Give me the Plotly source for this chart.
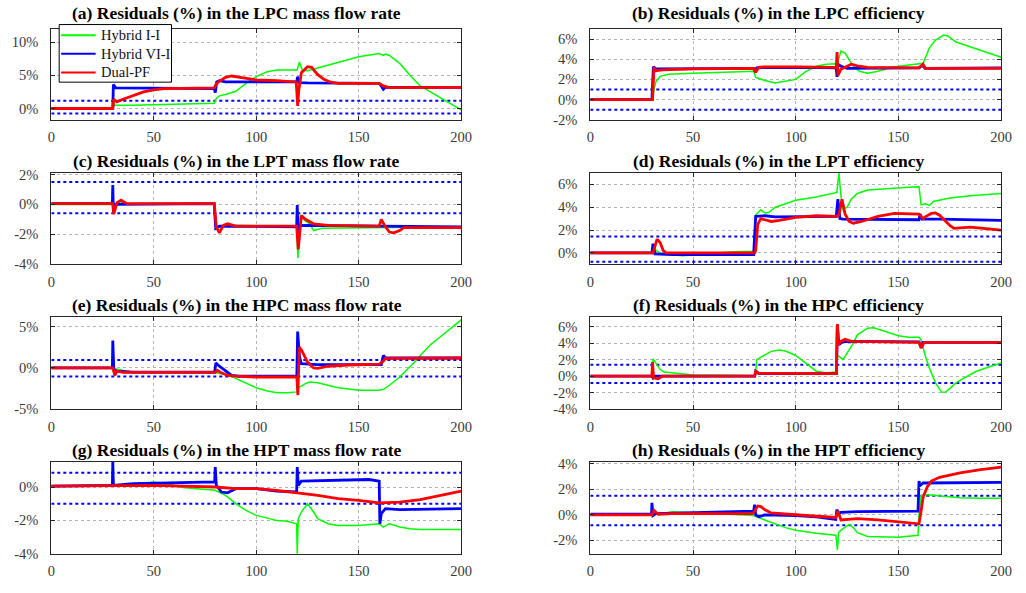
import plotly.graph_objects as go

# ---------------- data (time in s, residuals in %) ----------------
X_TICKS = [0, 50, 100, 150, 200]
SERIES_NAMES = ["Hybrid I-I", "Hybrid VI-I", "Dual-PF"]

TITLES = [
    "(a) Residuals (%) in the LPC mass flow rate",
    "(b) Residuals (%) in the LPC efficiency",
    "(c) Residuals (%) in the LPT mass flow rate",
    "(d) Residuals (%) in the LPT efficiency",
    "(e) Residuals (%) in the HPC mass flow rate",
    "(f) Residuals (%) in the HPC efficiency",
    "(g) Residuals (%) in the HPT mass flow rate",
    "(h) Residuals (%) in the HPT efficiency",
]

A_GREEN = [(0,0),(30,0),(30.5,0.5),(40,0.5),(60,0.65),(79.5,0.8),(80.5,1.5),(82,1.9),(85,2.1),(90,2.6),(95,3.8),(100,4.8),(105,5.5),(110,5.8),(120,5.8),(121,7.0),(122.5,5.8),(125,5.7),(130,6.1),(140,7.0),(150,7.8),(160,8.3),(162,8.0),(163,8.2),(165,8.0),(170,6.8),(175,5.0),(180,3.4),(185,2.5),(190,1.6),(195,0.8),(200,-0.2)]
A_BLUE = [(0,0),(30,0),(30.3,3.6),(31.5,3.1),(79.5,3.0),(80,2.4),(80.7,4.0),(82,4.2),(85,4.0),(119.7,4.0),(120.2,4.8),(121,3.9),(125,3.85),(160,3.8),(161,3.4),(162,2.9),(163,3.2),(200,3.2)]
A_RED = [(0,0),(30,0),(30.5,1.4),(32,1.0),(35,1.4),(40,2.0),(45,2.5),(50,2.8),(55,3.0),(79.5,3.1),(80.5,3.7),(82,4.1),(85,4.7),(88,4.9),(92,4.7),(95,4.5),(100,4.3),(110,4.2),(119.5,4.0),(120.2,0.4),(120.7,2.6),(122,5.4),(125,6.3),(127,6.2),(130,5.1),(133,4.4),(136,4.0),(140,3.8),(160,3.8),(162,3.4),(165,3.15),(200,3.2)]
A_THRESH = [1.15, -0.75]
A_YRANGE = [-1.7, 12]
A_YTICKS = [0, 5, 10]

B_GREEN = [(0,0),(30,0),(31,1.0),(32,1.8),(34,2.3),(38,2.5),(50,2.6),(79.5,2.8),(80.5,2.2),(85,1.9),(90,1.65),(95,1.8),(100,2.0),(105,2.8),(110,3.3),(115,3.5),(119,3.55),(120,3.4),(122,4.8),(124,4.6),(126,4.0),(128,3.3),(131,2.8),(135,2.6),(140,2.8),(145,3.1),(150,3.3),(155,3.4),(160,3.5),(162,3.6),(165,5.1),(168,5.9),(172,6.4),(174,6.3),(178,5.7),(183,5.35),(190,4.9),(195,4.5),(200,4.2)]
B_BLUE = [(0,0),(30,0),(30.7,3.25),(32,3.05),(79.5,3.1),(80.2,2.8),(81,3.15),(100,3.2),(119.7,3.15),(120.1,2.25),(120.5,3.5),(122,3.3),(125,3.1),(160,3.15),(161.5,3.4),(163,3.1),(200,3.15)]
B_RED = [(0,0),(30.3,0),(31,3.2),(32,2.85),(35,2.95),(50,3.05),(79.5,3.1),(80.5,2.7),(82,3.2),(85,3.25),(100,3.25),(119.7,3.2),(120.1,4.7),(120.5,2.4),(122,3.0),(125,3.3),(127,3.5),(130,3.35),(135,3.2),(160,3.15),(162,3.5),(163,3.1),(200,3.1)]
B_THRESH = [1.0, -1.0]
B_YRANGE = [-2, 7]
B_YTICKS = [-2, 0, 2, 4, 6]

C_GREEN = [(0,0),(30,0),(30.5,-0.6),(31.5,-0.1),(33,0.2),(36,0.05),(79.5,0.05),(80.5,-1.5),(82,-1.85),(84,-1.4),(119.7,-1.45),(120.3,-3.6),(121.5,-0.7),(123,-1.0),(126,-1.3),(128,-1.75),(132,-1.6),(200,-1.5)]
C_BLUE = [(0,0.05),(29.8,0.05),(30,1.3),(30.3,-0.5),(31,0.0),(79.5,0.05),(80.2,-1.6),(82,-1.45),(119.7,-1.5),(120,-0.05),(120.4,-2.0),(121.5,-1.4),(200,-1.5)]
C_RED = [(0,0.05),(30,0.05),(30.5,-0.65),(32,0.1),(34,0.28),(37,0.05),(79.5,0.05),(80.5,-1.5),(82,-1.9),(84,-1.4),(86,-1.3),(90,-1.45),(119.7,-1.45),(120.5,-3.0),(122,-0.75),(124,-1.0),(128,-1.3),(135,-1.4),(160,-1.45),(161,-1.0),(163,-1.5),(165,-1.85),(167,-1.9),(170,-1.75),(172,-1.55),(200,-1.55)]
C_THRESH = [1.5, -0.6]
C_YRANGE = [-4, 2.1]
C_YTICKS = [-4, -2, 0, 2]

D_GREEN = [(0,0),(30,0),(31,0.7),(32,0.2),(35,-0.1),(45,-0.25),(55,-0.1),(70,0.1),(79.5,0.15),(80.5,3.3),(82,3.6),(83,3.75),(85,3.5),(87,3.55),(90,4.0),(95,4.3),(100,4.6),(110,4.9),(119,5.2),(120,5.3),(121,7.0),(122,5.0),(123,3.8),(125,4.0),(127,4.7),(130,5.2),(135,5.5),(145,5.65),(155,5.75),(160,5.8),(161,4.2),(163,4.3),(165,4.15),(167,4.5),(175,4.8),(185,5.0),(200,5.2)]
D_BLUE = [(0,0),(30,0),(30.5,0.8),(31.5,-0.1),(40,-0.15),(79.5,-0.15),(80.5,3.2),(85,3.25),(90,3.15),(119.7,3.2),(120.5,4.7),(121.5,3.0),(123,2.95),(160,2.9),(160.5,3.4),(161.5,2.95),(170,2.95),(200,2.85)]
D_RED = [(0,0),(30.5,0),(32.5,1.2),(34,0.9),(35.5,0.2),(37,0.0),(80,0.0),(80.5,0.2),(81.5,2.5),(83,3.0),(85,2.9),(88,2.75),(92,2.85),(100,3.1),(110,3.25),(120,3.2),(121,3.3),(122.5,4.7),(124,3.4),(126,2.75),(128,2.6),(132,2.75),(140,3.2),(148,3.45),(160,3.4),(162,3.0),(163,3.15),(166,3.45),(168,3.5),(170,3.3),(175,2.4),(177,2.15),(185,2.25),(200,2.0)]
D_THRESH = [1.43, -0.77]
D_YRANGE = [-1, 7]
D_YTICKS = [0, 2, 4, 6]

E_GREEN = [(0,0),(30,0),(31,-0.1),(35,-0.3),(40,-0.55),(80,-0.6),(85,-0.8),(87.5,-1.0),(95,-1.9),(100,-2.4),(105,-2.75),(110,-3.0),(115,-3.0),(120,-2.9),(121,-2.3),(122,-2.2),(124,-1.9),(126,-1.7),(130,-1.8),(135,-2.1),(140,-2.4),(150,-2.7),(160,-2.7),(162,-2.6),(165,-2.1),(170,-1.1),(175,0.1),(178,0.9),(180,1.5),(185,2.8),(190,3.8),(195,4.8),(200,5.8)]
E_BLUE = [(0,0),(29.8,0),(30,3.3),(30.5,-0.2),(32,-0.4),(40,-0.5),(79.7,-0.5),(80.3,0.6),(82,0.2),(85,-0.4),(88,-0.9),(92,-1.0),(119.8,-1.0),(120.2,4.4),(121,1.5),(122,0.5),(130,0.4),(161,0.4),(162,1.5),(163,1.2),(200,1.2)]
E_RED = [(0,0),(30,0),(31,-0.9),(32,-0.4),(35,-0.55),(80,-0.55),(81,-0.3),(83,-0.6),(86,-0.9),(90,-1.0),(100,-1.1),(119.8,-1.1),(120.3,-3.3),(121,2.5),(122,2.2),(125,0.7),(128,0.0),(130,-0.05),(135,0.2),(145,0.35),(160,0.45),(162,0.8),(163,1.15),(200,1.2)]
E_THRESH = [0.95, -1.05]
E_YRANGE = [-5, 6.1]
E_YTICKS = [-5, 0, 5]

F_GREEN = [(0,0),(30,0),(30.5,2.1),(32,1.5),(34,0.8),(36,0.5),(40,0.4),(50,0.15),(80,0.05),(80.5,0.5),(81,2.0),(83,2.3),(85,2.6),(88,3.0),(92,3.15),(95,3.05),(100,2.5),(105,1.5),(110,0.6),(115,0.4),(119.7,0.5),(120.2,2.4),(121,2.4),(123,2.0),(125,2.8),(128,4.0),(130,5.0),(135,5.8),(138,5.85),(140,5.7),(145,5.3),(150,4.9),(155,4.7),(160,4.7),(161,4.4),(163,2.5),(165,1.0),(168,-0.8),(171,-1.95),(173,-1.9),(175,-1.5),(178,-0.8),(182,-0.2),(188,0.6),(195,1.2),(200,1.6)]
F_BLUE = [(0,0),(30,0),(30.5,-0.2),(31,0.0),(80,0.0),(80.5,0.6),(82,0.3),(119.8,0.3),(120.2,6.2),(121,3.8),(123,4.2),(160,4.15),(161,3.5),(162,4.1),(200,4.1)]
F_RED = [(0,0),(30,0),(30.3,1.7),(30.8,-0.2),(33,-0.3),(35,0.0),(80,0.0),(80.5,0.6),(82,0.35),(119.8,0.3),(120.3,6.3),(120.8,3.8),(122,4.2),(124,4.45),(127,4.2),(160,4.1),(161,3.4),(162.5,4.1),(200,4.1)]
F_THRESH = [1.38, -0.83]
F_YRANGE = [-4, 7.1]
F_YTICKS = [-4, -2, 0, 2, 4, 6]

G_GREEN = [(0,0.05),(40,0.15),(50,0.3),(58,0.15),(65,-0.05),(75,-0.15),(80,-0.2),(85,-0.5),(90,-1.0),(95,-1.4),(100,-1.7),(105,-1.85),(110,-2.0),(115,-2.05),(119.7,-2.2),(120,-4.0),(120.5,-1.9),(122,-1.5),(125,-1.0),(128,-1.5),(130,-1.9),(135,-2.2),(140,-2.3),(150,-2.3),(155,-2.25),(160,-2.2),(162,-2.4),(165,-2.2),(170,-2.4),(175,-2.5),(180,-2.55),(200,-2.55)]
G_BLUE = [(0,0.05),(29.8,0.1),(30,1.5),(30.3,0.1),(40,0.2),(60,0.25),(79.7,0.3),(80,1.2),(80.5,0.1),(83,-0.3),(86,-0.35),(90,-0.1),(100,-0.1),(110,-0.25),(119.7,-0.3),(120,1.2),(120.5,0.1),(122,0.35),(150,0.4),(155,0.45),(160,0.35),(160.3,-2.2),(161,-1.6),(163,-1.3),(170,-1.35),(200,-1.3)]
G_RED = [(0,0.05),(50,0.1),(80,0.0),(90,-0.1),(100,-0.1),(110,-0.2),(120,-0.35),(130,-0.5),(140,-0.7),(150,-0.8),(160,-0.95),(170,-0.9),(180,-0.75),(190,-0.5),(200,-0.25)]
G_THRESH = [0.85, -1.0]
G_YRANGE = [-4, 1.5]
G_YTICKS = [-4, -2, 0]

H_GREEN = [(0,0),(30,0),(40,0.25),(50,0.2),(60,0.1),(79.5,-0.05),(80,-0.1),(85,-0.4),(90,-0.7),(95,-1.0),(100,-1.2),(110,-1.45),(119.5,-1.6),(120.3,-2.75),(120.8,-1.4),(122,-1.2),(126,-0.75),(128,-1.0),(130,-1.4),(135,-1.7),(150,-1.75),(159.5,-1.6),(160,0.0),(161,1.5),(163,1.6),(170,1.5),(180,1.35),(190,1.3),(200,1.3)]
H_BLUE = [(0,0.05),(29.8,0.05),(30,0.95),(30.5,-0.05),(32,0.1),(79.5,0.3),(80,0.8),(80.5,0.0),(82,-0.15),(85,0.0),(100,-0.05),(110,-0.15),(119.5,-0.35),(120,0.4),(121,0.1),(122,0.2),(130,0.25),(159.5,0.3),(160,2.65),(160.5,2.3),(162,2.5),(180,2.55),(200,2.55)]
H_RED = [(0,0),(30,0),(31,0.35),(33,0.05),(40,0.1),(79,0.1),(80,0.3),(81.5,0.7),(83,0.65),(85,0.4),(88,0.15),(95,0.05),(105,-0.05),(119.5,-0.2),(120.5,0.3),(122,-0.4),(125,-0.35),(130,-0.3),(140,-0.4),(150,-0.55),(159.5,-0.65),(160,-0.7),(161,0.3),(162,1.4),(164,2.2),(166,2.65),(170,2.95),(175,3.15),(180,3.3),(190,3.55),(200,3.75)]
H_THRESH = [1.5, -0.82]
H_YRANGE = [-3.05, 4.15]
H_YTICKS = [-2, 0, 2, 4]

PANELS = [
    (A_GREEN, A_BLUE, A_RED, A_THRESH, A_YRANGE, A_YTICKS),
    (B_GREEN, B_BLUE, B_RED, B_THRESH, B_YRANGE, B_YTICKS),
    (C_GREEN, C_BLUE, C_RED, C_THRESH, C_YRANGE, C_YTICKS),
    (D_GREEN, D_BLUE, D_RED, D_THRESH, D_YRANGE, D_YTICKS),
    (E_GREEN, E_BLUE, E_RED, E_THRESH, E_YRANGE, E_YTICKS),
    (F_GREEN, F_BLUE, F_RED, F_THRESH, F_YRANGE, F_YTICKS),
    (G_GREEN, G_BLUE, G_RED, G_THRESH, G_YRANGE, G_YTICKS),
    (H_GREEN, H_BLUE, H_RED, H_THRESH, H_YRANGE, H_YTICKS),
]

# ---------------- styling / layout ----------------
W, H = 1026, 593
COLORS = ["#00ff00", "#0000ff", "#ff0000"]
WIDTHS = [1.5, 2.8, 2.8]
FONT = "Liberation Serif"
AX_COLOR = "#262626"

COL_PX = [(48, 464), (595, 1012)]
ROW_PX = [(23.5, 116.5), (171, 264.5), (319, 413), (467, 561)]
TITLE_SHIFT = [4, 0, 0, 0]
TITLE_CX = [236, 786]
LEG_BOX = (56, 19, 170, 78)          # left, top, right, bottom (px)
LEG_ROWS = [30, 49, 68]
LEG_LINE = (58, 93)
LEG_TEXT_X = 96


def px_x(v):
    return v / W


def px_y(v):
    return 1 - v / H


fig = go.Figure()
layout = dict(
    width=W, height=H, margin=dict(l=0, r=0, t=0, b=0),
    paper_bgcolor="white", plot_bgcolor="white",
    font=dict(family=FONT, color=AX_COLOR),
    showlegend=False,
)
annotations = []
shapes = []

for i, (g, b, r, thr, yr, yt) in enumerate(PANELS):
    row, col = divmod(i, 2)
    k = i + 1
    xs = "x" if k == 1 else f"x{k}"
    ys = "y" if k == 1 else f"y{k}"
    for thv in thr:
        fig.add_trace(go.Scatter(x=[X_TICKS[0], X_TICKS[-1]], y=[thv, thv], mode="lines",
                                 line=dict(color="#0000ff", width=2, dash="dot"),
                                 xaxis=xs, yaxis=ys, hoverinfo="skip"))
    for j, series in enumerate((g, b, r)):
        fig.add_trace(go.Scatter(x=[p[0] for p in series], y=[p[1] for p in series],
                                 mode="lines", name=SERIES_NAMES[j],
                                 line=dict(color=COLORS[j], width=WIDTHS[j]),
                                 xaxis=xs, yaxis=ys))
    x0, x1 = COL_PX[col]
    y0, y1 = ROW_PX[row]
    axcommon = dict(showline=True, linecolor=AX_COLOR, linewidth=1, mirror="ticks",
                    ticks="inside", ticklen=4, tickcolor=AX_COLOR,
                    showgrid=True, gridcolor="#b5b5b5", griddash="dot", gridwidth=1,
                    zeroline=False, tickfont=dict(family=FONT, size=14.5, color="#3a3a3a"))
    layout["xaxis" if k == 1 else f"xaxis{k}"] = dict(
        domain=[px_x(x0), px_x(x1)], range=[X_TICKS[0], X_TICKS[-1]],
        tickvals=X_TICKS, ticktext=[str(v) for v in X_TICKS],
        anchor=ys, ticklabelstandoff=4, **axcommon)
    layout["yaxis" if k == 1 else f"yaxis{k}"] = dict(
        domain=[px_y(y1), px_y(y0)], range=yr,
        tickvals=yt, ticktext=[f"{v}%" for v in yt],
        anchor=xs, ticklabelstandoff=9, **axcommon)
    annotations.append(dict(text=f"<b>{TITLES[i]}</b>", x=px_x(TITLE_CX[col]), y=px_y(y0),
                            xref="paper", yref="paper", xanchor="center", yanchor="bottom",
                            yshift=TITLE_SHIFT[row], showarrow=False,
                            font=dict(family=FONT, size=17.5, color="#000000")))

# legend box (drawn over the first panel, like the original)
lx0, ly0, lx1, ly1 = LEG_BOX
shapes.append(dict(type="rect", xref="paper", yref="paper",
                   x0=px_x(lx0), x1=px_x(lx1), y0=px_y(ly1), y1=px_y(ly0),
                   fillcolor="white", line=dict(color="#000000", width=1), layer="above"))
for j, name in enumerate(SERIES_NAMES):
    yy = px_y(LEG_ROWS[j])
    shapes.append(dict(type="line", xref="paper", yref="paper",
                       x0=px_x(LEG_LINE[0]), x1=px_x(LEG_LINE[1]), y0=yy, y1=yy,
                       line=dict(color=COLORS[j], width=2), layer="above"))
    annotations.append(dict(text=name, x=px_x(LEG_TEXT_X), y=yy, xref="paper", yref="paper",
                            xanchor="left", yanchor="middle", showarrow=False,
                            font=dict(family=FONT, size=14.5, color="#111111")))

layout["annotations"] = annotations
layout["shapes"] = shapes
fig.update_layout(**layout)
fig.write_html("out.html", config={"displayModeBar": False},
               post_script="document.body.style.margin='0px';")
